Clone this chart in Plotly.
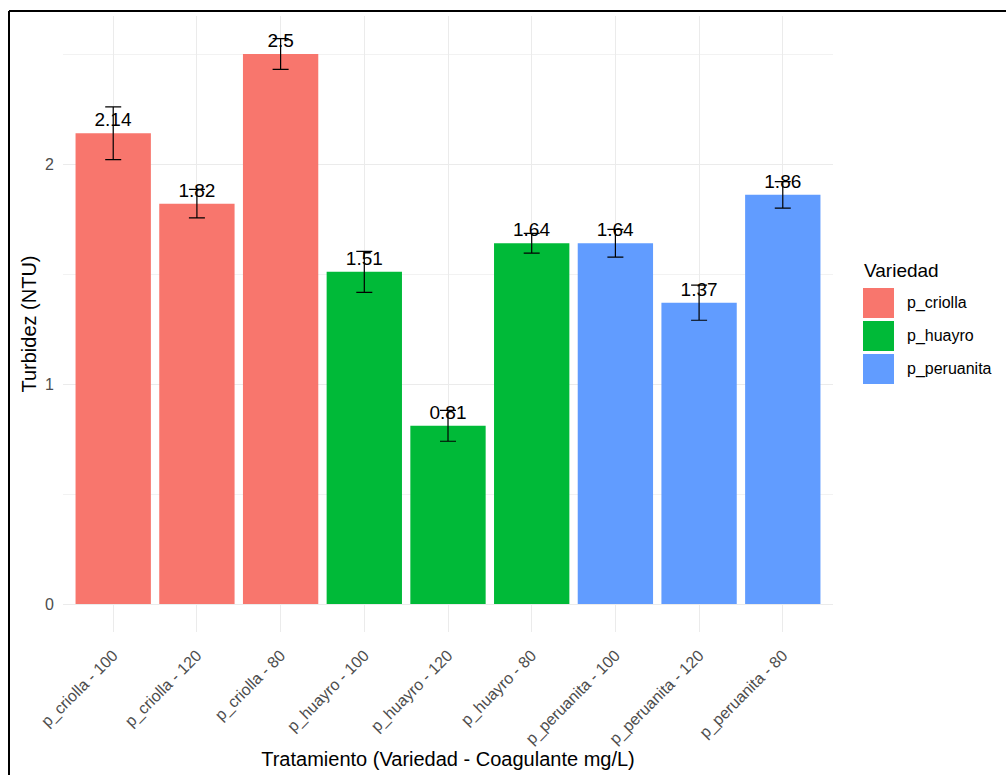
import plotly.graph_objects as go

# Turbidity by treatment (variety - coagulant dose)
tratamientos = [
    "p_criolla - 100", "p_criolla - 120", "p_criolla - 80",
    "p_huayro - 100", "p_huayro - 120", "p_huayro - 80",
    "p_peruanita - 100", "p_peruanita - 120", "p_peruanita - 80",
]
variedad = [
    "p_criolla", "p_criolla", "p_criolla",
    "p_huayro", "p_huayro", "p_huayro",
    "p_peruanita", "p_peruanita", "p_peruanita",
]
turbidez = [2.14, 1.82, 2.5, 1.51, 0.81, 1.64, 1.64, 1.37, 1.86]
error_std = [0.12, 0.065, 0.07, 0.093, 0.07, 0.045, 0.063, 0.08, 0.06]

variedades = ["p_criolla", "p_huayro", "p_peruanita"]
colores = ["#F8766D", "#00BA38", "#619CFF"]
color_map = dict(zip(variedades, colores))

FONT = "Liberation Sans, Arial, sans-serif"

fig = go.Figure()
fig.add_trace(go.Bar(
    x=tratamientos,
    y=turbidez,
    width=0.9,
    marker=dict(color=[color_map[v] for v in variedad], line=dict(width=0)),
    error_y=dict(type="data", array=error_std, visible=True,
                 color="black", thickness=1.2, width=8),
    text=[f"{v:g}" for v in turbidez],
    textposition="outside",
    constraintext="none",
    cliponaxis=False,
    textfont=dict(family=FONT, size=19, color="black"),
    showlegend=False,
))

# plot-area geometry (pixels) used to place the legend and frame
W, H = 1006, 775
L, R, T, B = 63, 173, 16, 143
pw, ph = W - L - R, H - T - B


def px(xp):
    return (xp - L) / pw


def py(yp):
    return (H - B - yp) / ph


shapes = []
annotations = []

# legend: title, colour keys and labels
annotations.append(dict(
    x=px(862), y=py(270), xref="paper", yref="paper",
    text="Variedad", showarrow=False, xanchor="left", yanchor="middle",
    font=dict(family=FONT, size=19, color="black"),
))
key_tops = [288, 321, 354]
for top, nombre, col in zip(key_tops, variedades, colores):
    shapes.append(dict(
        type="rect", xref="paper", yref="paper",
        x0=px(863), x1=px(894), y0=py(top), y1=py(top + 30),
        fillcolor=col, line=dict(width=0), layer="above",
    ))
    annotations.append(dict(
        x=px(905), y=py(top + 15), xref="paper", yref="paper",
        text=nombre, showarrow=False, xanchor="left", yanchor="middle",
        font=dict(family=FONT, size=16, color="black"),
    ))

# frame lines along the top and left edge
shapes.append(dict(
    type="line", xref="paper", yref="paper",
    x0=px(9), x1=px(1020), y0=py(11), y1=py(11),
    line=dict(color="black", width=2), layer="above",
))
shapes.append(dict(
    type="line", xref="paper", yref="paper",
    x0=px(9), x1=px(9), y0=py(11), y1=py(790),
    line=dict(color="black", width=2), layer="above",
))

fig.update_layout(
    width=W, height=H,
    margin=dict(l=L, r=R, t=T, b=B, pad=0, autoexpand=False),
    paper_bgcolor="white",
    plot_bgcolor="white",
    font=dict(family=FONT, color="black"),
    bargap=0.1,
    showlegend=False,
    shapes=shapes,
    annotations=annotations,
    xaxis=dict(
        type="category",
        categoryorder="array", categoryarray=tratamientos,
        range=[-0.6, 8.6],
        automargin=False,
        showgrid=True, gridcolor="#EBEBEB", gridwidth=1.2,
        showline=False, zeroline=False, ticks="",
        tickangle=-45,
        tickfont=dict(family=FONT, size=16, color="#4D4D4D"),
        ticklabelstandoff=10,
        title=dict(text="Tratamiento (Variedad - Coagulante mg/L)",
                   font=dict(family=FONT, size=20, color="black"),
                   standoff=4),
    ),
    yaxis=dict(
        range=[-0.127, 2.673],
        tick0=0, dtick=1,
        automargin=False,
        showgrid=True, gridcolor="#EBEBEB", gridwidth=1.2,
        minor=dict(dtick=0.5, tick0=0, showgrid=True,
                   gridcolor="#F2F2F2", gridwidth=1),
        zeroline=False, showline=False, ticks="",
        tickfont=dict(family=FONT, size=16, color="#4D4D4D"),
        ticklabelstandoff=8,
        title=dict(text="Turbidez (NTU)",
                   font=dict(family=FONT, size=20, color="black"),
                   standoff=3),
    ),
)

fig.write_html("out.html")
